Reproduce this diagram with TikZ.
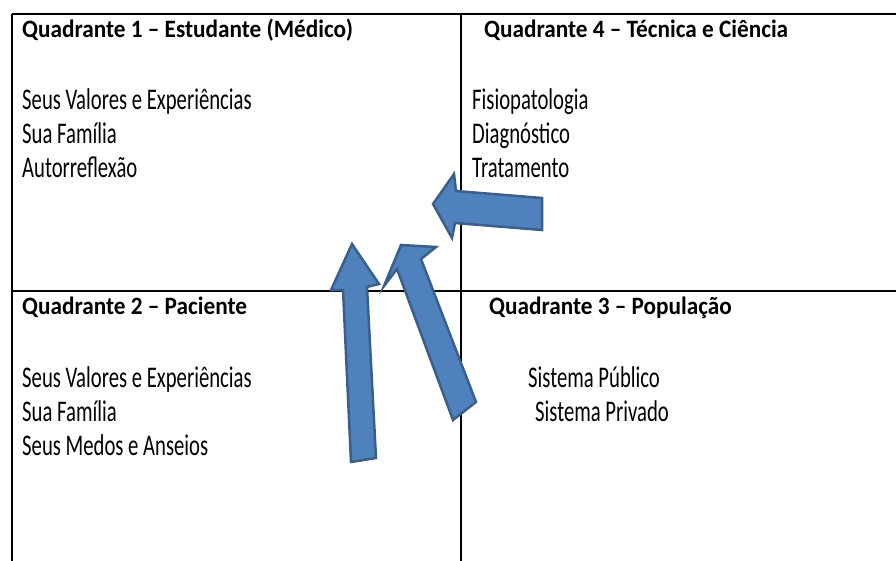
\documentclass[tikz,border=0pt]{standalone}
\usepackage{fontspec}
\setmainfont{Carlito}
\newfontfamily\bodyf[FakeStretch=0.69]{Carlito}
\newfontfamily\titlef[FakeStretch=0.93]{Carlito}
\definecolor{arrowfill}{HTML}{4F81BD}
\definecolor{arrowline}{HTML}{3A5F8B}
\tikzset{
  ttl/.style={anchor=base west, inner sep=0pt, font=\titlef\bfseries\fontsize{25}{25}\selectfont},
  itm/.style={anchor=base west, inner sep=0pt, font=\bodyf\fontsize{30}{30}\selectfont},
  gridline/.style={line width=2pt, black},
  blockarrow/.style={fill=arrowfill, draw=arrowline, line width=2.5pt, line join=miter}
}
\begin{document}
\begin{tikzpicture}[x=1pt,y=-1pt]
\useasboundingbox (0,0) rectangle (896,561);
% grid
\coordinate (tl) at (12,14);
\coordinate (tr) at (896,14);
\coordinate (bl) at (12,561);
\coordinate (tm) at (461,14);
\coordinate (bm) at (461,561);
\coordinate (ml) at (12,291);
\coordinate (mr) at (896,291);
\draw[gridline] (tl) -- (tr);
\draw[gridline] (tl) -- (bl);
\draw[gridline] (tm) -- (bm);
\draw[gridline] (ml) -- (mr);
% Quadrant 1
\node[ttl] (q1) at (22,38) {Quadrante 1 – Estudante (Médico)};
\node[itm] (q1a) at (22,110) {Seus Valores e Experiências};
\node[itm] (q1b) at (22,144) {Sua Família};
\node[itm] (q1c) at (22,178) {Autorreflexão};
% Quadrant 4
\node[ttl] (q4) at (484,38) {Quadrante 4 – Técnica e Ciência};
\node[itm] (q4a) at (472,110) {Fisiopatologia};
\node[itm] (q4b) at (472,144) {Diagnóstico};
\node[itm] (q4c) at (472,178) {Tratamento};
% Quadrant 2
\node[ttl] (q2) at (22,314) {Quadrante 2 – Paciente};
\node[itm] (q2a) at (22,387) {Seus Valores e Experiências};
\node[itm] (q2b) at (22,421) {Sua Família};
\node[itm] (q2c) at (22,455) {Seus Medos e Anseios};
% Quadrant 3
\node[ttl] (q3) at (489,314) {Quadrante 3 – População};
\node[itm] (q3a) at (528,387) {Sistema Público};
\node[itm] (q3b) at (535,421) {Sistema Privado};
% arrows
\draw[blockarrow] (433,204) -- (454,174) -- (456,191) -- (542,198) -- (542,230) -- (455,223) -- (452,238) -- cycle;
\draw[blockarrow] (352,244) -- (379,284) -- (367,287) -- (376,458) -- (351,462) -- (343,290) -- (331,290) -- cycle;
\draw[blockarrow] (401,245) -- (436,247) -- (421,259) -- (476,402) -- (453,420) -- (397,269) -- (384,286) -- cycle;
\end{tikzpicture}
\end{document}
